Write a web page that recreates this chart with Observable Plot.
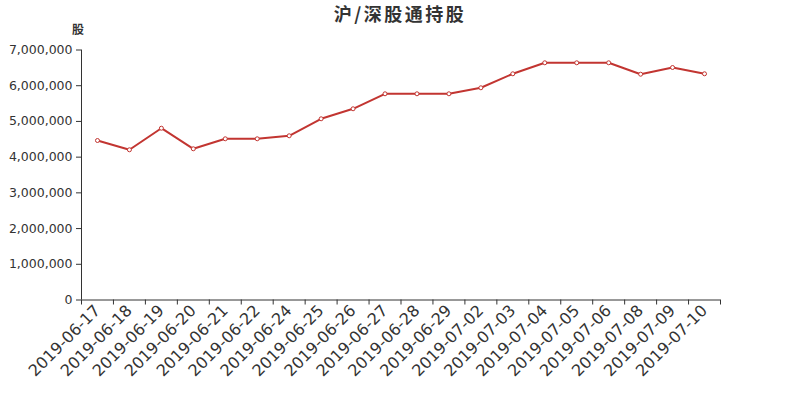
<!DOCTYPE html>
<html>
<head>
<meta charset="utf-8">
<script src="https://cdn.jsdelivr.net/npm/d3@7"></script>
<script src="https://cdn.jsdelivr.net/npm/@observablehq/plot@0.6"></script>
<style>
  html, body { margin: 0; padding: 0; background: #fff; }
  #wrap { position: relative; width: 800px; height: 400px; font-family: "DejaVu Sans", sans-serif; }
  #title { position: absolute; top: 0px; left: 0; width: 800px; text-align: center;
    font-family: "Noto Sans CJK SC", sans-serif; font-weight: bold; font-size: 18px; letter-spacing: 2.5px; color: #333; }
  #yname { position: absolute; left: 72px; top: 20px; font-family: "Noto Sans CJK SC", sans-serif;
    font-weight: bold; font-size: 12px; color: #333; }
  #chart { position: absolute; left: 0; top: 0; }
</style>
</head>
<body>
<div id="wrap">
  <div id="chart"></div>
  <div id="title">沪/深股通持股</div>
  <div id="yname">股</div>
</div>
<script>
const dates = ["2019-06-17","2019-06-18","2019-06-19","2019-06-20","2019-06-21","2019-06-22","2019-06-24","2019-06-25","2019-06-26","2019-06-27","2019-06-28","2019-06-29","2019-07-02","2019-07-03","2019-07-04","2019-07-05","2019-07-06","2019-07-08","2019-07-09","2019-07-10"];
const holdings = [4466000,4206000,4810000,4234000,4514000,4514000,4598000,5074000,5354000,5774000,5774000,5774000,5942000,6334000,6642000,6642000,6642000,6322000,6510000,6334000];
const yTicks = [0,1000000,2000000,3000000,4000000,5000000,6000000,7000000];

const data = dates.map((d, i) => ({i, date: d, v: holdings[i]}));
const idx = dates.map((d, i) => i);
const bounds = dates.map((d, i) => i - 0.5).concat([dates.length - 0.5]);
const red = "#c23531";

const chart = Plot.plot({
  width: 800,
  height: 400,
  marginLeft: 81,
  marginRight: 80,
  marginTop: 49.5,
  marginBottom: 100.5,
  style: {fontFamily: "DejaVu Sans, sans-serif", color: "#333", background: "transparent"},
  x: {type: "linear", domain: [-0.5, dates.length - 0.5]},
  y: {domain: [0, 7000000]},
  marks: [
    Plot.axisY({ticks: yTicks, tickFormat: d3.format(","), tickSize: 5, tickPadding: 4, fontSize: 12.5, label: null, stroke: "#333"}),
    Plot.axisX({ticks: bounds, tickSize: 5, tickFormat: () => "", label: null, stroke: "#333"}),
    Plot.axisX({ticks: idx, tickSize: 0, tickPadding: 8, tickRotate: -45, tickFormat: i => dates[i], fontSize: 16, label: null}),
    Plot.ruleX([-0.5], {stroke: "#333"}),
    Plot.ruleY([0], {stroke: "#333"}),
    Plot.line(data, {x: "i", y: "v", stroke: red, strokeWidth: 2}),
    Plot.dot(data, {x: "i", y: "v", r: 2, fill: "white", stroke: red, strokeWidth: 1})
  ]
});
document.getElementById("chart").appendChild(chart);
</script>
</body>
</html>
